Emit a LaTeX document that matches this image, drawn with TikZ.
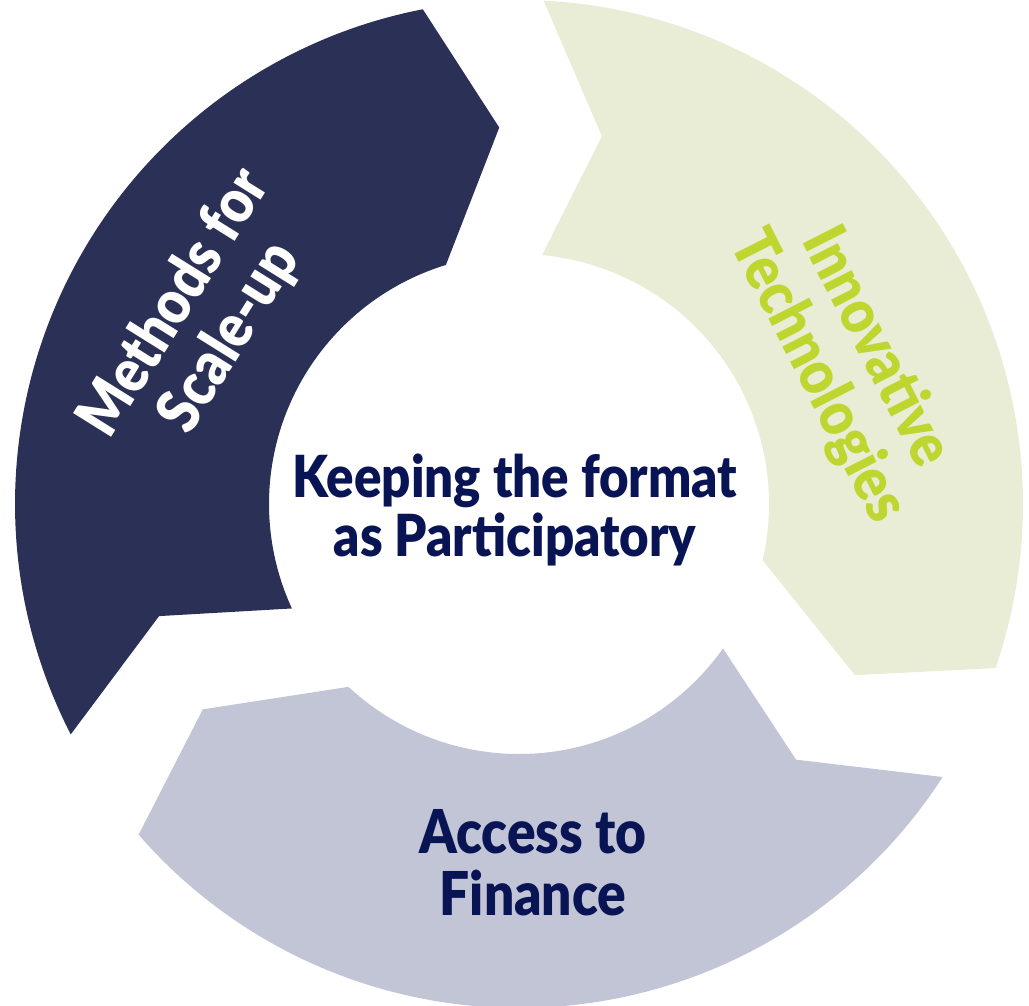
\documentclass[tikz,border=0pt]{standalone}
\usepackage{fontspec}
\setmainfont{Lato}
\newfontfamily\heavyfont{Lato Black}[FakeStretch=0.88]
\usetikzlibrary{positioning}
\definecolor{navy1}{RGB}{43,48,87}
\definecolor{sage1}{RGB}{234,237,214}
\definecolor{lilac1}{RGB}{194,197,214}
\definecolor{ink1}{RGB}{8,20,84}
\definecolor{lime1}{RGB}{192,214,48}
\newcommand{\Rout}{5.04}
\newcommand{\Rmid}{3.77}
\newcommand{\Rin}{2.50}

\begin{document}
\begin{tikzpicture}
[segtext/.style={font=\heavyfont\fontsize{16.5}{16.8}\selectfont,
align=center, inner sep=0pt},
turntext/.style={segtext, font=\heavyfont\fontsize{17.5}{18.5}\selectfont},
darkseg/.style={fill=navy1},
greenseg/.style={fill=sage1},
grayseg/.style={fill=lilac1}]
\useasboundingbox (-5.19,-5.02) rectangle (5.10,5.04);
% three arc arrows, clockwise
\path[darkseg] (207.2:\Rout) arc[start angle=207.2, end angle=101, radius=\Rout]
  -- (93:\Rmid) -- (107:\Rin) arc[start angle=107, end angle=204.7, radius=\Rin]
  -- (197.3:\Rmid) -- cycle;
\path[greenseg] (87.2:\Rout) arc[start angle=87.2, end angle=-19, radius=\Rout]
  -- (-27:\Rmid) -- (-13:\Rin) arc[start angle=-13, end angle=84.7, radius=\Rin]
  -- (77.3:\Rmid) -- cycle;
\path[grayseg] (-32.8:\Rout) arc[start angle=-32.8, end angle=-139, radius=\Rout]
  -- (-147:\Rmid) -- (-133:\Rin) arc[start angle=-133, end angle=-35.3, radius=\Rin]
  -- (-42.7:\Rmid) -- cycle;

\node [segtext, text=ink1]               (keep)  at (-0.04,-0.06)     {Keeping the format\\as Participatory};
\node [turntext, text=white, rotate=58]  (meth)  at (149.9:3.66)      {Methods for\\Scale-up};
\node [turntext, text=lime1, rotate=-63] (inno)  at (23.4:3.57)       {Innovative\\Technologies};
\node [segtext, text=ink1, font=\heavyfont\fontsize{17.2}{17.6}\selectfont] (acc) at (0.14,-3.59) {Access to\\Finance};

\end{tikzpicture}
\end{document}
